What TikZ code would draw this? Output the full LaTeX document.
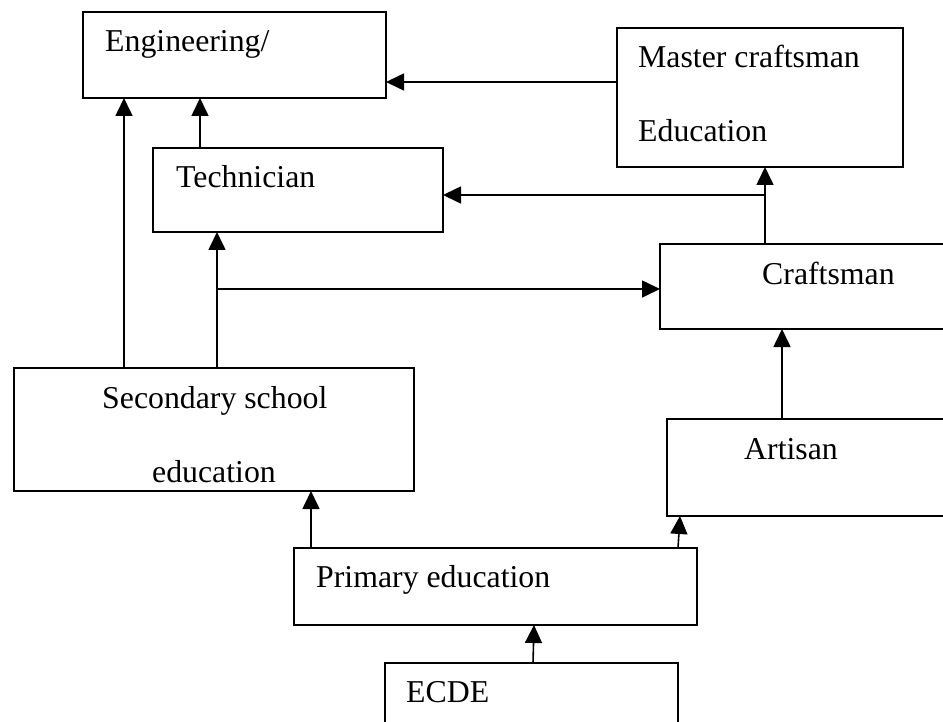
\documentclass[tikz,border=0pt]{standalone}
\usepackage{fontspec}
\setmainfont{Liberation Serif}
\usetikzlibrary{arrows.meta}
\begin{document}
\begin{tikzpicture}[x=1pt,y=-1pt,
  box/.style={draw, line width=1.4pt, inner sep=0pt, outer sep=0pt},
  lbl/.style={anchor=base west, inner sep=0pt, font=\fontsize{31.8}{37}\selectfont},
  arr/.style={line width=1.6pt, -{Triangle[length=18pt,width=17pt]}},
  ln/.style={line width=1.6pt}]
\useasboundingbox (0,0) rectangle (943,722);
\clip (0,0) rectangle (943,722);
% boxes
\node[box, minimum width=303pt, minimum height=86pt] (eng) at (234.5,55) {};
\node[box, minimum width=290pt, minimum height=84pt] (tech) at (298,190) {};
\node[box, minimum width=286pt, minimum height=139pt] (master) at (760,97.5) {};
\node[box, minimum width=300pt, minimum height=85pt] (craft) at (810,286.5) {};
\node[box, minimum width=400pt, minimum height=123pt] (sec) at (214,429.5) {};
\node[box, minimum width=293pt, minimum height=97pt] (art) at (813.5,467.5) {};
\node[box, minimum width=403pt, minimum height=77pt] (prim) at (495.5,586.5) {};
\node[box, minimum width=293pt, minimum height=77pt] (ecde) at (531.5,701.5) {};
% labels
\node[lbl] (tEng) at (105,52) {Engineering/};
\node[lbl] (tTech) at (176,188) {Technician};
\node[lbl] (tMaster1) at (638,68) {Master craftsman};
\node[lbl] (tMaster2) at (638,142) {Education};
\node[lbl] (tCraft) at (762,285) {Craftsman};
\node[lbl] (tSec1) at (102,408) {Secondary school};
\node[lbl] (tSec2) at (152,482) {education};
\node[lbl] (tArt) at (744,459) {Artisan};
\node[lbl] (tPrim) at (316,587) {Primary education};
\node[lbl] (tEcde) at (406,702) {ECDE};
% junction coordinates
\coordinate (j1) at (765,195);
\coordinate (j2) at (217,289);
% connectors
\draw[arr] (master.west |- 0,82) -- (eng.east |- 0,82);
\draw[arr] (craft.north -| j1) -- (master.south -| j1);
\draw[arr] (j1) -- (tech.east |- j1);
\draw[arr] (sec.north -| j2) -- (tech.south -| j2);
\draw[arr] (j2) -- (craft.west |- j2);
\draw[arr] (sec.north -| 124,0) -- (eng.south -| 124,0);
\draw[arr] (tech.north -| 200,0) -- (eng.south -| 200,0);
\draw[arr] (art.north -| 782,0) -- (craft.south -| 782,0);
\draw[arr] (prim.north -| 311,0) -- (sec.south -| 311,0);
\draw[arr] (prim.north -| 678,0) -- (art.south -| 680,0);
\draw[arr] (ecde.north -| 533,0) -- (prim.south -| 534,0);
\end{tikzpicture}
\end{document}
